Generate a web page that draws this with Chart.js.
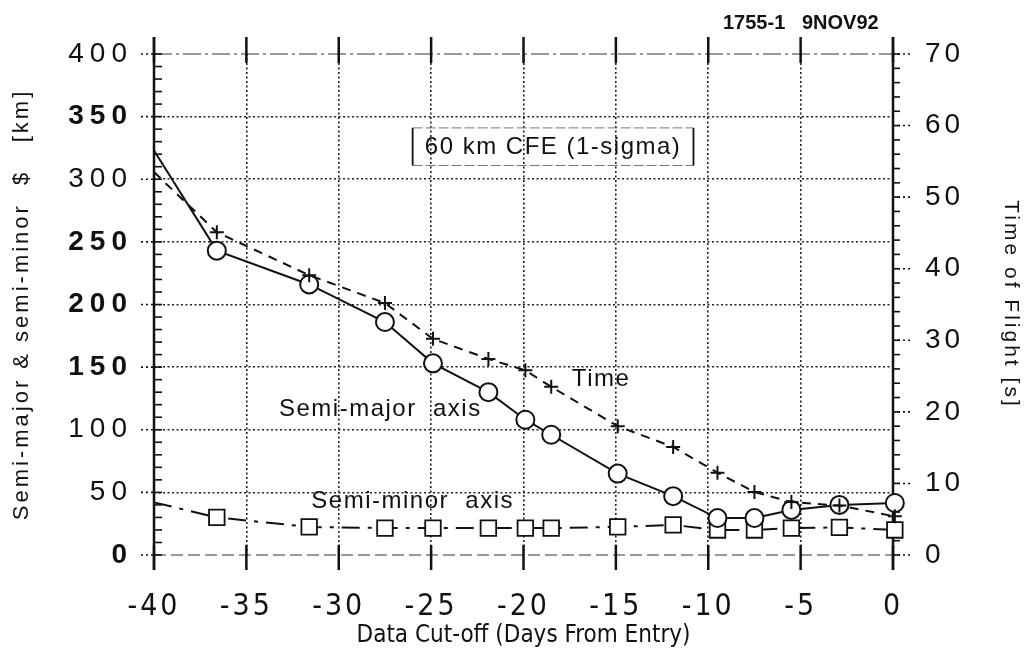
<!DOCTYPE html>
<html>
<head>
<meta charset="utf-8">
<title>CFE semi-axes and time of flight</title>
<script src="https://cdn.jsdelivr.net/npm/chart.js@4.4.1/dist/chart.umd.min.js"></script>
<style>
  html, body { margin: 0; padding: 0; background: #fff; }
  #wrap { width: 1029px; height: 654px; }
</style>
</head>
<body>
<div id="wrap"><canvas id="cfeChart" width="1029" height="654"></canvas></div>
<script>
// --- data ---
const days = [-40, -36.6, -31.6, -27.5, -24.9, -21.9, -19.9, -18.5, -14.9, -11.9, -9.5, -7.5, -5.5, -2.9, 0.1];
const semiMajor = [323, 243, 216, 186, 153, 130, 108, 96, 65, 47, 29.5, 29.5, 36, 40, 41.5];
const semiMinor = [42, 30, 22.4, 21.5, 21.5, 21.5, 21.5, 21.5, 22.4, 24, 20, 20, 21.5, 22, 20];
const timeOfFlight = [53.5, 45.1, 39.1, 35.2, 30.2, 27.4, 25.8, 23.5, 18.0, 15.1, 11.5, 8.8, 7.4, 6.9, 5.4];

const xTicks = [-40, -35, -30, -25, -20, -15, -10, -5, 0];
const kmTicks = [0, 50, 100, 150, 200, 250, 300, 350, 400];
const secTicks = [0, 10, 20, 30, 40, 50, 60, 70];
const boldKm = [0, 150, 200, 250, 350];   // these came out heavier in the print

const INK = '#111';
const SANS = 'Arial, "Liberation Sans", Helvetica, sans-serif';
const NARROW = '"Liberation Sans Narrow", "Arial Narrow", "DejaVu Sans Condensed", sans-serif';

const toPoints = vals => vals.map((v, i) => ({ x: days[i], y: v }));
const skipFirst = r => ctx => (ctx.dataIndex === 0 ? 0 : r);
const edgeClear = edges => ctx => (edges.includes(ctx.tick.value) ? 'rgba(0,0,0,0)' : '#222');

// letter spacing per scale (the scanned labels are spread out)
const labelSpacing = { x: '3px', y: '6px', y2: '4px' };
const titleSpacing = { x: '0px', y: '3px', y2: '3px' };

const spacedText = {
  id: 'spacedText',
  afterLayout(chart) {
    Object.values(chart.scales).forEach(scale => {
      if (scale._spaced) return;
      const drawLabels = scale.drawLabels;
      const drawTitle = scale.drawTitle;
      scale.drawLabels = function (area) {
        this.ctx.save();
        this.ctx.letterSpacing = labelSpacing[this.id] || '0px';
        drawLabels.call(this, area);
        this.ctx.restore();
      };
      scale.drawTitle = function (area) {
        this.ctx.save();
        this.ctx.letterSpacing = titleSpacing[this.id] || '0px';
        drawTitle.call(this, area);
        this.ctx.restore();
      };
      scale._spaced = true;
    });
  }
};

function seg(ctx, x1, y1, x2, y2) {
  ctx.beginPath();
  ctx.moveTo(x1, y1);
  ctx.lineTo(x2, y2);
  ctx.stroke();
}

// axis frame, tick marks and borders like the original plotter output
const frame = {
  id: 'frame',
  beforeDatasetsDraw(chart) {
    const { ctx, chartArea: a, scales } = chart;
    ctx.save();
    ctx.strokeStyle = '#333';

    ctx.lineWidth = 1;
    ctx.setLineDash([18, 4, 3, 4]);
    seg(ctx, a.left, a.top, a.right, a.top);
    ctx.setLineDash([12, 5]);
    seg(ctx, a.left, a.bottom, a.right, a.bottom);
    ctx.setLineDash([]);

    ctx.strokeStyle = INK;
    ctx.lineWidth = 2.5;
    seg(ctx, a.left, a.top - 17, a.left, a.bottom + 15);
    seg(ctx, a.right, a.top - 17, a.right, a.bottom + 15);
    xTicks.forEach(v => {
      const px = scales.x.getPixelForValue(v);
      seg(ctx, px, a.top - 17, px, a.top + 9);
      seg(ctx, px, a.bottom - 10, px, a.bottom + 15);
    });

    ctx.lineWidth = 1.6;
    for (let v = 0; v <= 400; v += 10) {
      const py = scales.y.getPixelForValue(v);
      seg(ctx, a.left, py, a.left + 8, py);
    }
    for (let v = 0; v <= 70; v += 2) {
      const py = scales.y2.getPixelForValue(v);
      seg(ctx, a.right, py, a.right + 7, py);
    }

    ctx.setLineDash([2, 3]);
    kmTicks.forEach(v => {
      const py = scales.y.getPixelForValue(v);
      seg(ctx, a.left - 13, py, a.left, py);
    });
    secTicks.forEach(v => {
      const py = scales.y2.getPixelForValue(v);
      seg(ctx, a.right, py, a.right + 17, py);
    });
    ctx.restore();
  }
};

// in-plot labels and the plot id at the top
const notes = {
  id: 'notes',
  afterDraw(chart) {
    const { ctx, scales } = chart;
    const X = v => scales.x.getPixelForValue(v);
    const Y = v => scales.y.getPixelForValue(v);
    ctx.save();
    ctx.fillStyle = INK;
    ctx.strokeStyle = INK;

    // boxed note
    const bx1 = X(-26), bx2 = X(-10.8), by1 = Y(341), by2 = Y(311);
    ctx.lineWidth = 1;
    ctx.strokeStyle = '#777';
    ctx.setLineDash([10, 3]);
    seg(ctx, bx1, by1, bx2, by1);
    seg(ctx, bx1, by2, bx2, by2);
    ctx.setLineDash([]);
    ctx.strokeStyle = INK;
    ctx.lineWidth = 1.8;
    seg(ctx, bx1, by1, bx1, by2);
    seg(ctx, bx2, by1, bx2, by2);

    ctx.letterSpacing = '1.5px';
    ctx.font = '24px ' + SANS;
    ctx.textAlign = 'center';
    ctx.textBaseline = 'middle';
    ctx.fillText('60 km CFE (1-sigma)', (bx1 + bx2) / 2, (by1 + by2) / 2 + 1);
    ctx.fillText('Semi-major  axis', X(-27.75), Y(116));
    ctx.fillText('Time', X(-15.8), Y(140));
    ctx.fillText('Semi-minor  axis', X(-26), Y(42.5));

    ctx.letterSpacing = '0px';
    ctx.font = 'bold 20px ' + SANS;
    ctx.textAlign = 'left';
    ctx.textBaseline = 'alphabetic';
    ctx.fillText('1755-1   9NOV92', 723, 29);
    ctx.restore();
  }
};

new Chart(document.getElementById('cfeChart'), {
  type: 'line',
  data: {
    datasets: [
      {
        label: 'Time of flight',
        data: toPoints(timeOfFlight),
        yAxisID: 'y2',
        order: 0,
        borderColor: INK,
        borderWidth: 2,
        borderDash: [9, 7],
        pointStyle: 'cross',
        pointRadius: skipFirst(7),
        pointBorderWidth: 2,
        pointBorderColor: INK,
        clip: false
      },
      {
        label: 'Semi-major axis',
        data: toPoints(semiMajor),
        yAxisID: 'y',
        order: 1,
        borderColor: INK,
        borderWidth: 2,
        pointStyle: 'circle',
        pointRadius: skipFirst(9),
        pointBorderWidth: 2,
        pointBorderColor: INK,
        pointBackgroundColor: '#fff',
        clip: false
      },
      {
        label: 'Semi-minor axis',
        data: toPoints(semiMinor),
        yAxisID: 'y',
        order: 2,
        borderColor: INK,
        borderWidth: 2,
        borderDash: [18, 8, 4, 8],
        pointStyle: 'rect',
        pointRadius: skipFirst(11),
        pointBorderWidth: 1.8,
        pointBorderColor: INK,
        pointBackgroundColor: '#fff',
        clip: false
      }
    ]
  },
  options: {
    responsive: false,
    animation: false,
    events: [],
    layout: { padding: { top: 54, left: 0, right: 0, bottom: 0 } },
    plugins: {
      legend: { display: false },
      tooltip: { enabled: false }
    },
    scales: {
      x: {
        type: 'linear',
        position: 'bottom',
        min: -40,
        max: 0,
        afterFit: s => { s.height = 99; },
        afterBuildTicks: s => { s.ticks = xTicks.map(v => ({ value: v })); },
        ticks: { color: INK, padding: 34, font: { family: NARROW, size: 30 } },
        grid: { color: edgeClear([-40, 0]), lineWidth: 1.6, drawTicks: false },
        border: { display: false, dash: [2, 2.5] },
        title: {
          display: true,
          text: 'Data Cut-off (Days From Entry)',
          color: INK,
          font: { family: NARROW, size: 24 },
          padding: { top: 0, bottom: 4 }
        }
      },
      y: {
        type: 'linear',
        position: 'left',
        min: 0,
        max: 400,
        afterFit: s => { s.width = 154; },
        afterBuildTicks: s => { s.ticks = kmTicks.map(v => ({ value: v })); },
        ticks: {
          color: INK,
          padding: 21,
          font: ctx => ({ family: SANS, size: 28, weight: boldKm.includes(ctx.tick && ctx.tick.value) ? 'bold' : 'normal' })
        },
        grid: { color: edgeClear([0, 400]), lineWidth: 1.6, drawTicks: false },
        border: { display: false, dash: [2, 2.5] },
        title: {
          display: true,
          text: 'Semi-major & semi-minor  $   [km]',
          color: INK,
          font: { family: SANS, size: 22 },
          padding: { top: 9, bottom: 0 }
        }
      },
      y2: {
        type: 'linear',
        position: 'right',
        min: 0,
        max: 70,
        afterFit: s => { s.width = 136; },
        afterBuildTicks: s => { s.ticks = secTicks.map(v => ({ value: v })); },
        ticks: { color: INK, padding: 32, font: { family: SANS, size: 28 } },
        grid: { drawOnChartArea: false, drawTicks: false },
        border: { display: false },
        title: {
          display: true,
          text: 'Time of Flight [s]',
          color: INK,
          font: { family: SANS, size: 21 },
          padding: { top: 6, bottom: 0 }
        }
      }
    }
  },
  plugins: [spacedText, frame, notes]
});
</script>
</body>
</html>
